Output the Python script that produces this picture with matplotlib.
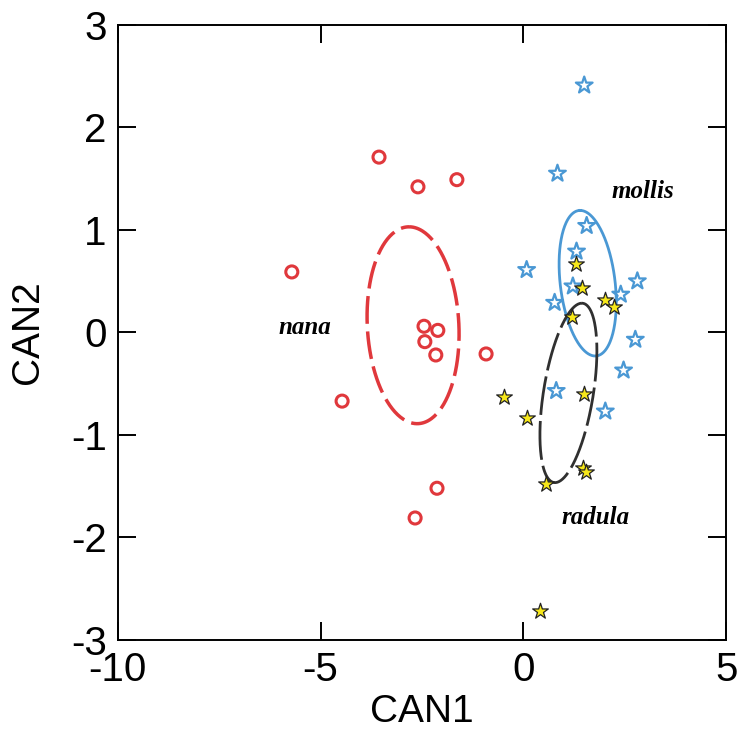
"""Canonical discriminant scores (CAN1 vs CAN2) for three groups, with ellipses."""
import numpy as np
import matplotlib
matplotlib.use("Agg")
from matplotlib import pyplot as plt

# group scores
nana_x = [-5.71, -4.47, -3.56, -2.60, -1.64, -2.45, -2.11, -2.43, -2.16, -0.92, -2.13, -2.67]
nana_y = [0.59, -0.67, 1.71, 1.42, 1.49, 0.06, 0.02, -0.09, -0.22, -0.21, -1.52, -1.81]

mollis_x = [1.50, 0.84, 1.56, 1.31, 0.08, 2.81, 1.22, 2.40, 0.77, 2.76, 2.47, 0.81, 2.02]
mollis_y = [2.41, 1.55, 1.04, 0.79, 0.61, 0.50, 0.45, 0.37, 0.29, -0.07, -0.37, -0.57, -0.77]

radula_x = [1.29, 1.45, 2.02, 2.23, 1.19, -0.48, 1.50, 0.10, 1.47, 1.55, 0.55, 0.41]
radula_y = [0.67, 0.43, 0.32, 0.25, 0.15, -0.63, -0.60, -0.83, -1.32, -1.36, -1.48, -2.72]

# ellipses: centre, conjugate half-axis u (to top point), horizontal half-axis v
nana_ell = dict(center=(-2.72, 0.07), u=(-0.10, 0.96), v=(1.13, 0.0))
mollis_ell = dict(center=(1.585, 0.48), u=(-0.185, 0.71), v=(0.68, 0.0))
radula_ell = dict(center=(1.11, -0.59), u=(0.33, 0.875), v=(0.62, 0.0))

labels = {"nana": (-5.39, 0.05), "mollis": (2.95, 1.37), "radula": (1.79, -1.81)}

red = "#e0383c"
blue = "#4a98d4"
yellow = "#f7e81a"
dark = "#303030"


def ellipse_xy(center, u, v, n=300):
    t = np.linspace(0, 2 * np.pi, n)
    x = center[0] + u[0] * np.cos(t) + v[0] * np.sin(t)
    y = center[1] + u[1] * np.cos(t) + v[1] * np.sin(t)
    return x, y


plt.rcParams["font.family"] = ["Liberation Sans", "DejaVu Sans"]
plt.rcParams["axes.unicode_minus"] = False

fig = plt.figure(figsize=(7.41, 7.31), dpi=100)
ax = fig.add_axes([0.159, 0.1245, 0.821, 0.8415])

ax.scatter(nana_x, nana_y, s=75, facecolors="none", edgecolors=red, linewidths=2.2, zorder=3)
ax.scatter(mollis_x, mollis_y, s=160, marker="*", facecolors="none", edgecolors=blue,
           linewidths=1.6, zorder=3)
ax.scatter(radula_x, radula_y, s=140, marker="*", facecolors=yellow, edgecolors="#222222",
           linewidths=0.9, zorder=4)

ex, ey = ellipse_xy(**nana_ell)
ax.plot(ex, ey, color=red, lw=2.5, dashes=(8, 2.2), zorder=2)
ex, ey = ellipse_xy(**mollis_ell)
ax.plot(ex, ey, color=blue, lw=2.0, zorder=2)
ex, ey = ellipse_xy(**radula_ell)
ax.plot(ex, ey, color=dark, lw=2.0, dashes=(14, 2.2), zorder=2)

for name, (lx, ly) in labels.items():
    ax.text(lx, ly, name, ha="center", va="center", fontsize=18, fontweight="bold",
            fontstyle="italic", family=["Liberation Serif", "DejaVu Serif"])

ax.set_xlim(-10, 5)
ax.set_ylim(-3, 3)
ax.set_xticks([-10, -5, 0, 5])
ax.set_yticks([-3, -2, -1, 0, 1, 2, 3])
ax.tick_params(direction="in", length=13, width=1.4, labelsize=29, pad=8,
               top=True, right=True)
for sp in ax.spines.values():
    sp.set_linewidth(1.4)

ax.set_xlabel("CAN1", fontsize=28)
ax.set_ylabel("CAN2", fontsize=28)
ax.xaxis.set_label_coords(0.5, -0.088)
ax.yaxis.set_label_coords(-0.118, 0.5)

fig.savefig("out.png", dpi=100)
